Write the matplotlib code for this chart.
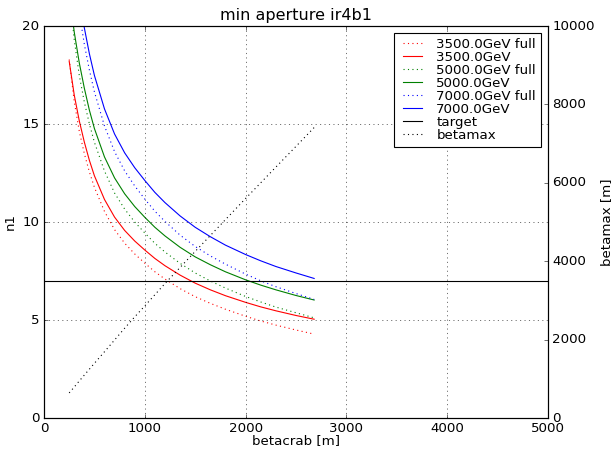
import matplotlib
matplotlib.use("Agg")
import matplotlib.pyplot as plt

plt.style.use("classic")
plt.rcParams["figure.facecolor"] = "white"
plt.rcParams["savefig.facecolor"] = "white"
plt.rcParams["font.family"] = ["DejaVu Sans"]

# betacrab grid [m]
betacrab = [250, 300, 350, 400, 450, 500, 600, 700, 800, 900, 1000, 1100,
            1200, 1350, 1500, 1650, 1800, 2000, 2150, 2300, 2500, 2680]

# n1 values
n1_3500 = [18.2, 16.48, 15.16, 14.08, 13.15, 12.36, 11.15, 10.25, 9.57, 9.03, 8.57, 8.14,
           7.77, 7.29, 6.88, 6.54, 6.24, 5.9, 5.67, 5.47, 5.23, 5.04]
n1_3500_full = [18.29, 16.15, 14.63, 13.49, 12.56, 11.77, 10.54, 9.61, 8.92, 8.37, 7.90, 7.46,
                7.09, 6.60, 6.19, 5.85, 5.55, 5.19, 4.95, 4.74, 4.49, 4.28]
n1_5000 = [21.75, 19.69, 18.12, 16.83, 15.71, 14.77, 13.32, 12.25, 11.44, 10.79, 10.24, 9.73,
           9.29, 8.71, 8.22, 7.82, 7.46, 7.05, 6.78, 6.54, 6.25, 6.02]
n1_5000_full = [21.86, 19.30, 17.48, 16.12, 15.01, 14.07, 12.60, 11.48, 10.66, 10.0, 9.44, 8.91,
                8.47, 7.89, 7.40, 6.99, 6.63, 6.20, 5.92, 5.66, 5.37, 5.11]
n1_7000 = [25.73, 23.30, 21.44, 19.91, 18.59, 17.48, 15.77, 14.49, 13.53, 12.77, 12.12, 11.51,
           10.99, 10.31, 9.73, 9.25, 8.82, 8.34, 8.02, 7.73, 7.40, 7.12]
n1_7000_full = [25.86, 22.84, 20.69, 19.07, 17.76, 16.64, 14.90, 13.59, 12.61, 11.84, 11.17, 10.55,
                10.03, 9.33, 8.75, 8.27, 7.85, 7.34, 7.00, 6.70, 6.35, 6.05]

# betamax [m]
betamax = [640, 790, 945, 1095, 1245, 1395, 1690, 1990, 2290, 2580, 2860, 3145,
           3430, 3840, 4250, 4655, 5060, 5600, 6000, 6400, 6930, 7410]

target = 7

fig = plt.figure(figsize=(7.7, 5.625), dpi=80)
ax = fig.add_axes([44 / 616, 1 - 418 / 450, 504 / 616, 392 / 450])
ax2 = ax.twinx()

ax.plot(betacrab, n1_3500_full, "r:", label="3500.0GeV full")
ax.plot(betacrab, n1_3500, "r-", label="3500.0GeV")
ax.plot(betacrab, n1_5000_full, "g:", label="5000.0GeV full")
ax.plot(betacrab, n1_5000, "g-", label="5000.0GeV")
ax.plot(betacrab, n1_7000_full, "b:", label="7000.0GeV full")
ax.plot(betacrab, n1_7000, "b-", label="7000.0GeV")
ax.axhline(target, color="k", label="target")
bm, = ax2.plot(betacrab, betamax, "k:", label="betamax")

ax.set_xlim(0, 5000)
ax.set_ylim(0, 20)
ax2.set_ylim(0, 10000)
ax.set_xticks(range(0, 5001, 1000))
ax.set_yticks(range(0, 21, 5))
ax2.set_yticks(range(0, 10001, 2000))
ax.grid(True)

ax.set_xlabel("betacrab [m]", labelpad=-1)
ax.set_ylabel("n1")
ax2.set_ylabel("betamax [m]")
ax.set_title("min aperture ir4b1")

handles, labels = ax.get_legend_handles_labels()
handles.append(bm)
labels.append("betamax")
ax2.legend(handles, labels, loc="upper right", fontsize=12, numpoints=2,
           labelspacing=0.0, handlelength=2.0, borderpad=0.4)

fig.savefig("out.png", dpi=80)
